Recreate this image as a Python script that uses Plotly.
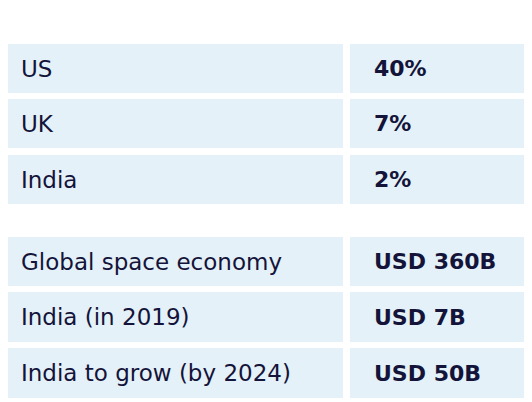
import plotly.graph_objects as go

title = "% of global market share"
labels_top = ["US", "UK", "India"]
values_top = ["40%", "7%", "2%"]
labels_bottom = ["Global space economy", "India (in 2019)", "India to grow (by 2024)"]
values_bottom = ["USD 360B", "USD 7B", "USD 50B"]

# row pixel spans (top, bottom)
rows = [(44, 93), (99, 148), (155, 204), (237, 286), (292, 342), (348, 398)]
labels = labels_top + labels_bottom
values = values_top + values_bottom

cell = "#e4f1f8"
ink = "#14143a"
fig = go.Figure()
for (y0, y1), lab, val in zip(rows, labels, values):
    fig.add_shape(type="rect", x0=4, x1=343, y0=y0, y1=y1, fillcolor=cell, line_width=0, layer="below")
    fig.add_shape(type="rect", x0=350, x1=540, y0=y0, y1=y1, fillcolor=cell, line_width=0, layer="below")
    yc = (y0 + y1) / 2
    fig.add_annotation(x=19, y=yc, text=lab, xanchor="left", yanchor="middle", showarrow=False,
                       font=dict(family="DejaVu Sans", size=23, color=ink))
    fig.add_annotation(x=372, y=yc, text="<b>" + val + "</b>", xanchor="left", yanchor="middle", showarrow=False,
                       font=dict(family="DejaVu Sans", size=22, color=ink))
fig.add_annotation(x=5, y=22, text=title, xanchor="left", yanchor="middle", showarrow=False,
                   font=dict(family="DejaVu Sans", size=22, color=ink))

# page body has an 8px margin, so shift the view to compensate
fig.update_xaxes(range=[8, 540], visible=False, fixedrange=True)
fig.update_yaxes(range=[410, 8], visible=False, fixedrange=True)
fig.update_layout(width=532, height=402, margin=dict(l=0, r=0, t=0, b=0),
                  plot_bgcolor="white", paper_bgcolor="white", showlegend=False)
fig.write_html("out.html")
